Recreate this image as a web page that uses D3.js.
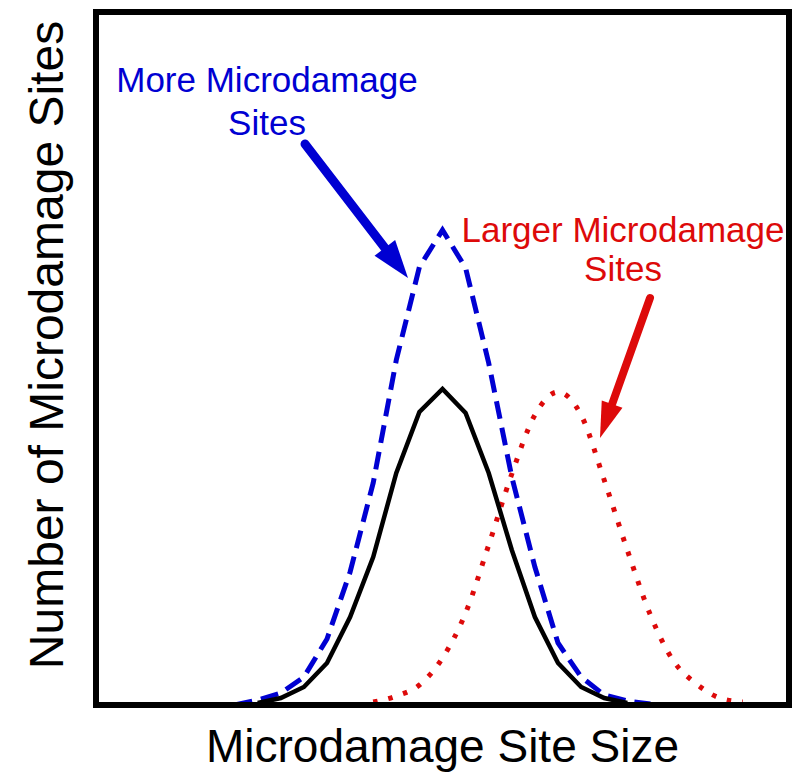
<!DOCTYPE html>
<html>
<head>
<meta charset="utf-8">
<script src="https://d3js.org/d3.v7.min.js"></script>
<style>
    body { margin: 0; background: #fff; }
    text { font-family: Arial, "Liberation Sans", sans-serif; }
</style>
</head>
<body>
<div id="chart"></div>
<script>
// site size (arbitrary units) and number of sites for each curve
var baseSize   = [7, 8, 9, 10, 11, 12, 13, 14, 15, 16, 17, 18, 19, 20, 21, 22, 23];
var baseCount  = [2, 7, 18, 42, 88, 148, 232, 293, 316, 292, 232, 155, 88, 42, 18, 7, 2];

var moreSize   = [6, 7, 8, 9, 10, 11, 12, 13, 14, 15, 16, 17, 18, 19, 20, 21, 22, 23, 24];
var moreCount  = [0, 5, 12, 28, 66, 133, 222, 345, 438, 475, 437, 342, 228, 138, 62, 28, 10, 4, 1];

var largeSize  = [12, 13, 14, 15, 16, 17, 18, 19, 20, 21, 22, 23, 24, 25, 26, 27, 28];
var largeCount = [3, 9, 20, 47, 92, 160, 231, 290, 313, 290, 225, 155, 90, 44, 21, 7, 3];

var xLabel = "Microdamage Site Size";
var yLabel = "Number of Microdamage Sites";

(function(){
    var width = 800;
    var height = 779;
    var left = 96, top = 12, right = 789, bottom = 705;

    var svg = d3.select("#chart")
        .append("svg")
        .attr("width", width)
        .attr("height", height);

    var x = d3.scaleLinear().domain([0, 30]).range([left, right]);
    var y = d3.scaleLinear().domain([0, 693]).range([bottom, top]);

    function pairs(xs, ys) {
        return xs.map(function(d, i){ return [d, ys[i]]; });
    }

    var line = d3.line()
        .x(function(d){ return x(d[0]); })
        .y(function(d){ return y(d[1]); });

    var smooth = d3.line()
        .curve(d3.curveMonotoneX)
        .x(function(d){ return x(d[0]); })
        .y(function(d){ return y(d[1]); });

    svg.append("path")
        .datum(pairs(largeSize, largeCount))
        .attr("d", smooth)
        .attr("fill", "none")
        .attr("stroke", "#dd0a0a")
        .attr("stroke-width", 5)
        .attr("stroke-dasharray", "4.5,11");

    svg.append("path")
        .datum(pairs(moreSize, moreCount))
        .attr("d", line)
        .attr("fill", "none")
        .attr("stroke", "#0000d2")
        .attr("stroke-width", 5)
        .attr("stroke-dasharray", "18,9");

    svg.append("path")
        .datum(pairs(baseSize, baseCount))
        .attr("d", line)
        .attr("fill", "none")
        .attr("stroke", "#000")
        .attr("stroke-width", 4.5)
        .attr("stroke-linejoin", "miter");

    // frame
    svg.append("rect")
        .attr("x", left)
        .attr("y", top)
        .attr("width", right - left)
        .attr("height", bottom - top)
        .attr("fill", "none")
        .attr("stroke", "#000")
        .attr("stroke-width", 6);

    // axis titles
    svg.append("text")
        .attr("x", (left + right) / 2)
        .attr("y", 762)
        .attr("text-anchor", "middle")
        .attr("font-size", "46px")
        .attr("fill", "#000")
        .text(xLabel);

    svg.append("text")
        .attr("transform", "translate(63," + 345 + ") rotate(-90)")
        .attr("text-anchor", "middle")
        .attr("font-size", "48px")
        .attr("fill", "#000")
        .text(yLabel);

    // annotations
    function note(lines, cx, ys, color) {
        var t = svg.append("text")
            .attr("text-anchor", "middle")
            .attr("font-size", "35px")
            .attr("fill", color);
        lines.forEach(function(s, i){
            t.append("tspan").attr("x", cx).attr("y", ys[i]).text(s);
        });
    }

    function arrow(x0, y0, x1, y1, color, w, headLen, headW) {
        var dx = x1 - x0, dy = y1 - y0;
        var len = Math.sqrt(dx * dx + dy * dy);
        var ux = dx / len, uy = dy / len;
        var bx = x1 - ux * headLen, by = y1 - uy * headLen;
        svg.append("line")
            .attr("x1", x0).attr("y1", y0)
            .attr("x2", bx + ux * 2).attr("y2", by + uy * 2)
            .attr("stroke", color)
            .attr("stroke-width", w)
            .attr("stroke-linecap", "round");
        var pts = [
            [x1, y1],
            [bx - uy * headW / 2, by + ux * headW / 2],
            [bx + uy * headW / 2, by - ux * headW / 2]
        ];
        svg.append("polygon")
            .attr("points", pts.map(function(p){ return p.join(","); }).join(" "))
            .attr("fill", color);
    }

    note(["More Microdamage", "Sites"], 267, [92, 135], "#0000d2");
    arrow(305, 144, 408, 278, "#0000d2", 9, 38, 26);

    note(["Larger Microdamage", "Sites"], 623, [242, 281], "#dd0a0a");
    arrow(650, 298, 600, 438, "#dd0a0a", 8, 36, 22);
})();
</script>
</body>
</html>
